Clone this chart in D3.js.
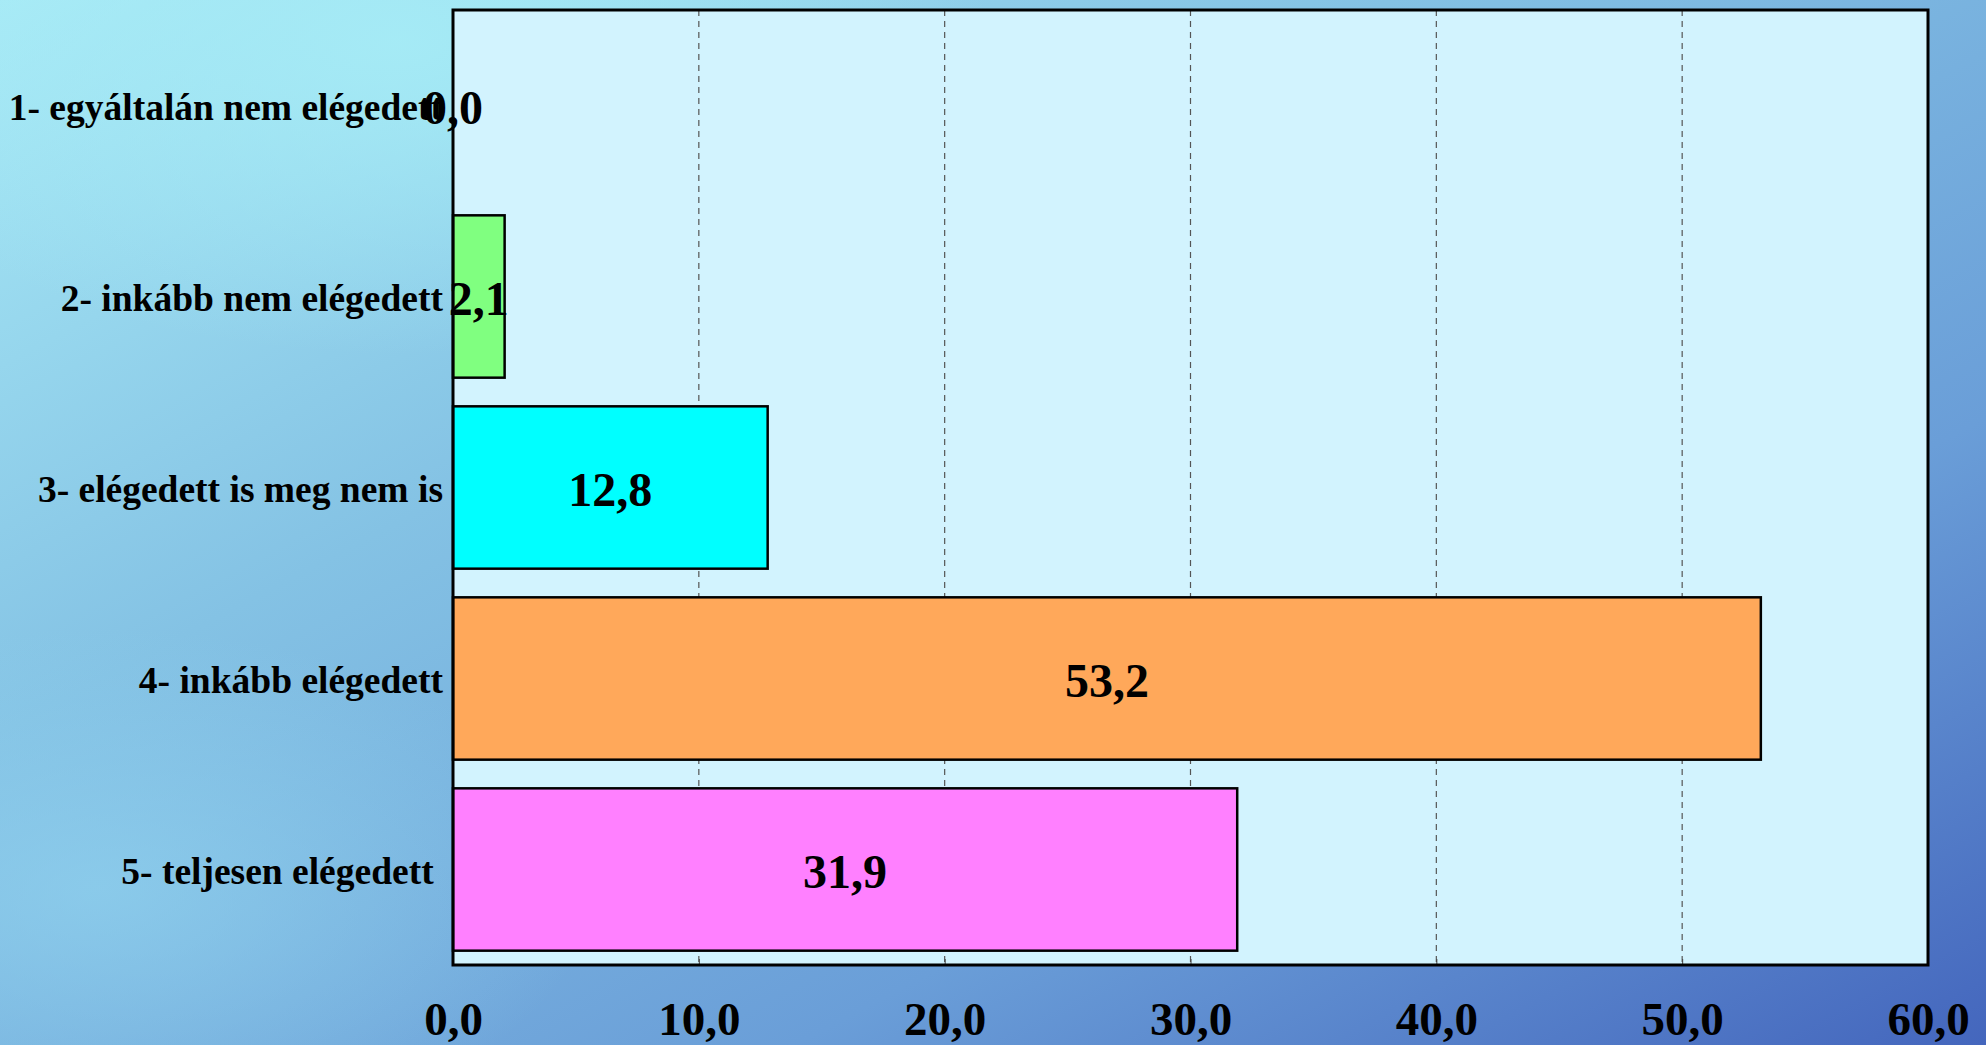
<!DOCTYPE html>
<html>
<head>
<meta charset="utf-8">
<script src="https://cdn.jsdelivr.net/npm/d3@7"></script>
<style>
  html, body { margin: 0; padding: 0; overflow: hidden; }
  text { font-family: "Liberation Serif", "Times New Roman", serif; font-weight: bold; }
</style>
</head>
<body>
<div id="chart"></div>
<script>
// chart data
const categories = [
  "1- egyáltalán nem elégedett",
  "2- inkább nem elégedett",
  "3- elégedett is meg nem is",
  "4- inkább elégedett",
  "5- teljesen elégedett "
];
const values = [0.0, 2.1, 12.8, 53.2, 31.9];
const barColors = ["#ffffff", "#80ff80", "#00ffff", "#ffa85a", "#ff80ff"];
const xTicks = [0, 10, 20, 30, 40, 50, 60];

const W = 1986, H = 1045;
const margin = { top: 10, right: 58, bottom: 80, left: 453 };

const svg = d3.select("#chart")
  .append("svg")
    .attr("width", W)
    .attr("height", H);

// background gradient
const defs = svg.append("defs");
const lg = defs.append("linearGradient")
    .attr("id", "bg")
    .attr("x1", "0%").attr("y1", "0%")
    .attr("x2", "100%").attr("y2", "100%");
lg.append("stop").attr("offset", "0%").attr("stop-color", "#a8eaf6");
lg.append("stop").attr("offset", "35%").attr("stop-color", "#84c2e4");
lg.append("stop").attr("offset", "70%").attr("stop-color", "#6a9ed8");
lg.append("stop").attr("offset", "100%").attr("stop-color", "#4466bd");

const rg = defs.append("radialGradient")
    .attr("id", "glow")
    .attr("cx", "20%").attr("cy", "4%").attr("r", "30%");
rg.append("stop").attr("offset", "0%").attr("stop-color", "#a6ecf6").attr("stop-opacity", 0.9);
rg.append("stop").attr("offset", "100%").attr("stop-color", "#a6ecf6").attr("stop-opacity", 0);

const rg2 = defs.append("radialGradient")
    .attr("id", "glow2")
    .attr("cx", "5%").attr("cy", "85%").attr("r", "25%");
rg2.append("stop").attr("offset", "0%").attr("stop-color", "#90d2ee").attr("stop-opacity", 0.7);
rg2.append("stop").attr("offset", "100%").attr("stop-color", "#90d2ee").attr("stop-opacity", 0);

svg.append("rect").attr("width", W).attr("height", H).attr("fill", "url(#bg)");
svg.append("rect").attr("width", W).attr("height", H).attr("fill", "url(#glow)");
svg.append("rect").attr("width", W).attr("height", H).attr("fill", "url(#glow2)");

// scales
const x = d3.scaleLinear()
  .domain([0, 60])
  .range([margin.left, W - margin.right]);

const y = d3.scaleBand()
  .domain(categories)
  .range([margin.top, H - margin.bottom])
  .paddingInner(0.15)
  .paddingOuter(0.075);

// plot area
svg.append("rect")
  .attr("x", x(0))
  .attr("y", margin.top)
  .attr("width", x(60) - x(0))
  .attr("height", H - margin.bottom - margin.top)
  .attr("fill", "#d2f3fe");

// dashed gridlines
svg.append("g")
  .selectAll("line")
  .data(xTicks.slice(1, -1))
  .enter().append("line")
    .attr("x1", d => x(d))
    .attr("x2", d => x(d))
    .attr("y1", margin.top)
    .attr("y2", H - margin.bottom)
    .attr("stroke", "#555")
    .attr("stroke-width", 1.2)
    .attr("stroke-dasharray", "6,5");

// bars
svg.append("g")
  .selectAll("rect")
  .data(values)
  .enter().append("rect")
    .attr("x", x(0))
    .attr("y", (d, i) => y(categories[i]))
    .attr("width", d => x(d) - x(0))
    .attr("height", y.bandwidth())
    .attr("fill", (d, i) => barColors[i])
    .attr("stroke", "#000")
    .attr("stroke-width", 2.5);

// x axis (ticks pointing inward)
const xAxis = svg.append("g")
  .attr("transform", `translate(0, ${H - margin.bottom})`)
  .call(d3.axisBottom(x)
    .tickValues(xTicks)
    .tickSize(-6)
    .tickPadding(37)
    .tickFormat(d => d3.format(".1f")(d).replace(".", ",")));
xAxis.select(".domain").remove();
xAxis.selectAll(".tick line").attr("stroke", "#444");
xAxis.selectAll("text")
  .attr("fill", "#000")
  .style("font-size", "47px");

// frame
svg.append("rect")
  .attr("x", x(0))
  .attr("y", margin.top)
  .attr("width", x(60) - x(0))
  .attr("height", H - margin.bottom - margin.top)
  .attr("fill", "none")
  .attr("stroke", "#000")
  .attr("stroke-width", 3);

// y axis labels
const yAxis = svg.append("g")
  .attr("transform", `translate(${x(0)}, 0)`)
  .call(d3.axisLeft(y).tickSize(0).tickPadding(10));
yAxis.select(".domain").remove();
yAxis.selectAll("text")
  .attr("fill", "#000")
  .attr("dy", "0.375em")
  .style("font-size", "37.5px")
  .style("white-space", "pre");

// value labels
svg.append("g")
  .selectAll("text")
  .data(values)
  .enter().append("text")
    .attr("x", d => x(d / 2))
    .attr("y", (d, i) => y(categories[i]) + y.bandwidth() / 2)
    .attr("dy", "0.385em")
    .attr("text-anchor", "middle")
    .style("font-size", "48px")
    .text(d => d3.format(".1f")(d).replace(".", ","));
</script>
</body>
</html>
